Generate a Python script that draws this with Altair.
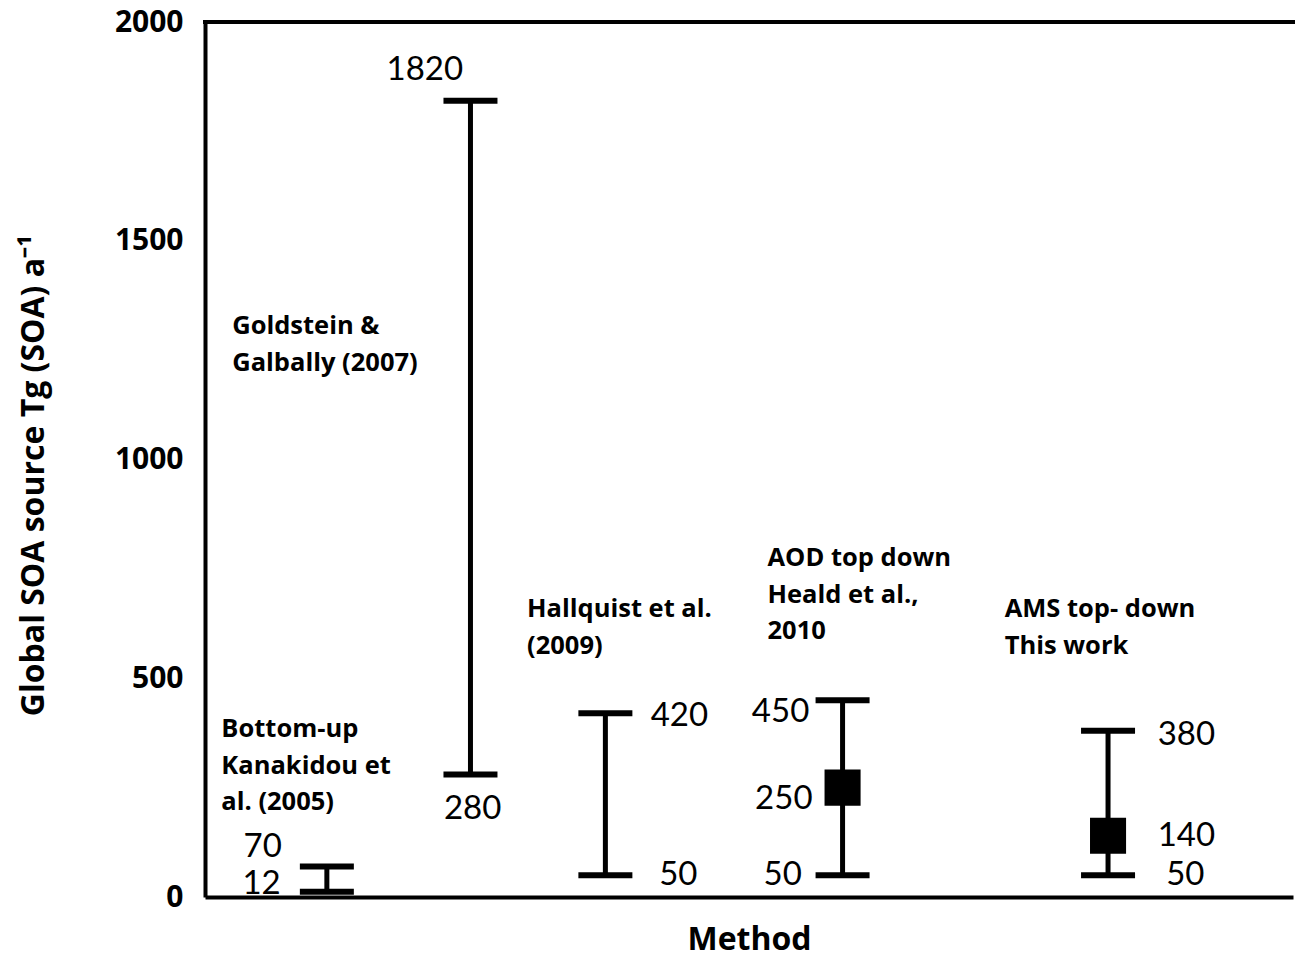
import altair as alt
import pandas as pd

# Error-bar data
methods = ["Bottom-up Kanakidou", "Goldstein & Galbally", "Hallquist", "AOD top down", "AMS top-down"]
bar_pos = [1.12, 2.44, 3.68, 5.86, 8.30]
low = [12, 280, 50, 50, 50]
high = [70, 1820, 420, 450, 380]
mean_methods = ["AOD top down", "AMS top-down"]
mean_pos = [5.86, 8.30]
mean_val = [250, 140]

# Value labels
val_text = ["70", "12", "1820", "280", "420", "50", "450", "250", "50", "380", "140", "50"]
val_x = [0.53, 0.52, 2.02, 2.46, 4.36, 4.35, 5.29, 5.32, 5.31, 9.02, 9.02, 9.01]
val_y = [114, 30, 1890, 201, 414, 50, 422, 224, 50, 370, 139, 50]

# Method labels
cat_text = [
    "Bottom-up\nKanakidou et\nal. (2005)",
    "Goldstein &\nGalbally (2007)",
    "Hallquist et al.\n(2009)",
    "AOD top down\nHeald et al.,\n2010",
    "AMS top- down\nThis work",
]
cat_x = [0.15, 0.25, 2.96, 5.17, 7.35]
cat_y = [365, 1286, 639, 756, 639]

bars = pd.DataFrame({"method": methods, "pos": bar_pos, "low": low, "high": high})
means = pd.DataFrame({"method": mean_methods, "pos": mean_pos, "val": mean_val})
vals = pd.DataFrame({"t": val_text, "x": val_x, "y": val_y})
cats = pd.DataFrame({"t": cat_text, "x": cat_x, "y": cat_y})

FONT = "Lato"
BFONT = "Open Sans"
xs = alt.Scale(domain=[0, 10], nice=False, zero=False)
ys = alt.Scale(domain=[0, 2000], nice=False)

xax = alt.Axis(labels=False, ticks=False, grid=False, domainColor="black", domainWidth=4,
               title="Method", titleFont=BFONT, titleFontSize=32, titleFontWeight="bold",
               titleColor="black", titlePadding=27)
yax = alt.Axis(values=[0, 500, 1000, 1500, 2000], format="d", ticks=False, grid=False,
               domainColor="black", domainWidth=4, labelFont=BFONT, labelFontSize=30,
               labelFontWeight="bold", labelColor="black", labelPadding=22,
               title="Global SOA source Tg (SOA) a⁻¹", titleFont=BFONT, titleFontSize=32,
               titleFontWeight="bold", titleColor="black", titleAngle=-90,
               titleX=-172, titleY=453, titleAlign="center", titleBaseline="middle")

base_x = alt.X("pos:Q", scale=xs, axis=xax)

vline = alt.Chart(bars).mark_rule(color="black", strokeWidth=5).encode(
    x=base_x,
    y=alt.Y("low:Q", scale=ys, axis=yax),
    y2="high:Q",
)
cap_lo = alt.Chart(bars).mark_rule(color="black", strokeWidth=6, xOffset=-27, x2Offset=27).encode(
    x=alt.X("pos:Q", scale=xs), x2="pos:Q", y=alt.Y("low:Q", scale=ys)
)
cap_hi = alt.Chart(bars).mark_rule(color="black", strokeWidth=6, xOffset=-27, x2Offset=27).encode(
    x=alt.X("pos:Q", scale=xs), x2="pos:Q", y=alt.Y("high:Q", scale=ys)
)
sq = alt.Chart(means).mark_square(color="black", opacity=1, size=1300).encode(
    x=alt.X("pos:Q", scale=xs), y=alt.Y("val:Q", scale=ys)
)
top = alt.Chart(pd.DataFrame({"y": [2000]})).mark_rule(color="black", strokeWidth=4).encode(
    y=alt.Y("y:Q", scale=ys), x=alt.value(-2), x2=alt.value(1100)
)
vtext = alt.Chart(vals).mark_text(font=FONT, fontSize=33, color="black", align="center",
                                  baseline="middle").encode(
    x=alt.X("x:Q", scale=xs), y=alt.Y("y:Q", scale=ys), text="t:N"
)
ctext = alt.Chart(cats).mark_text(font=BFONT, fontSize=25.5, fontWeight="bold", color="black",
                                  align="left", baseline="alphabetic", lineBreak="\n",
                                  lineHeight=36.5).encode(
    x=alt.X("x:Q", scale=xs), y=alt.Y("y:Q", scale=ys), text="t:N"
)

chart = alt.layer(vline, cap_lo, cap_hi, sq, top, vtext, ctext).properties(
    width=1088, height=875,
    autosize=alt.AutoSizeParams(type="none"),
    padding={"left": 205, "top": 22, "right": 2, "bottom": 64},
    background="white",
).configure_view(stroke=None)

chart.save("out.html", embed_options={"renderer": "svg", "actions": False})
